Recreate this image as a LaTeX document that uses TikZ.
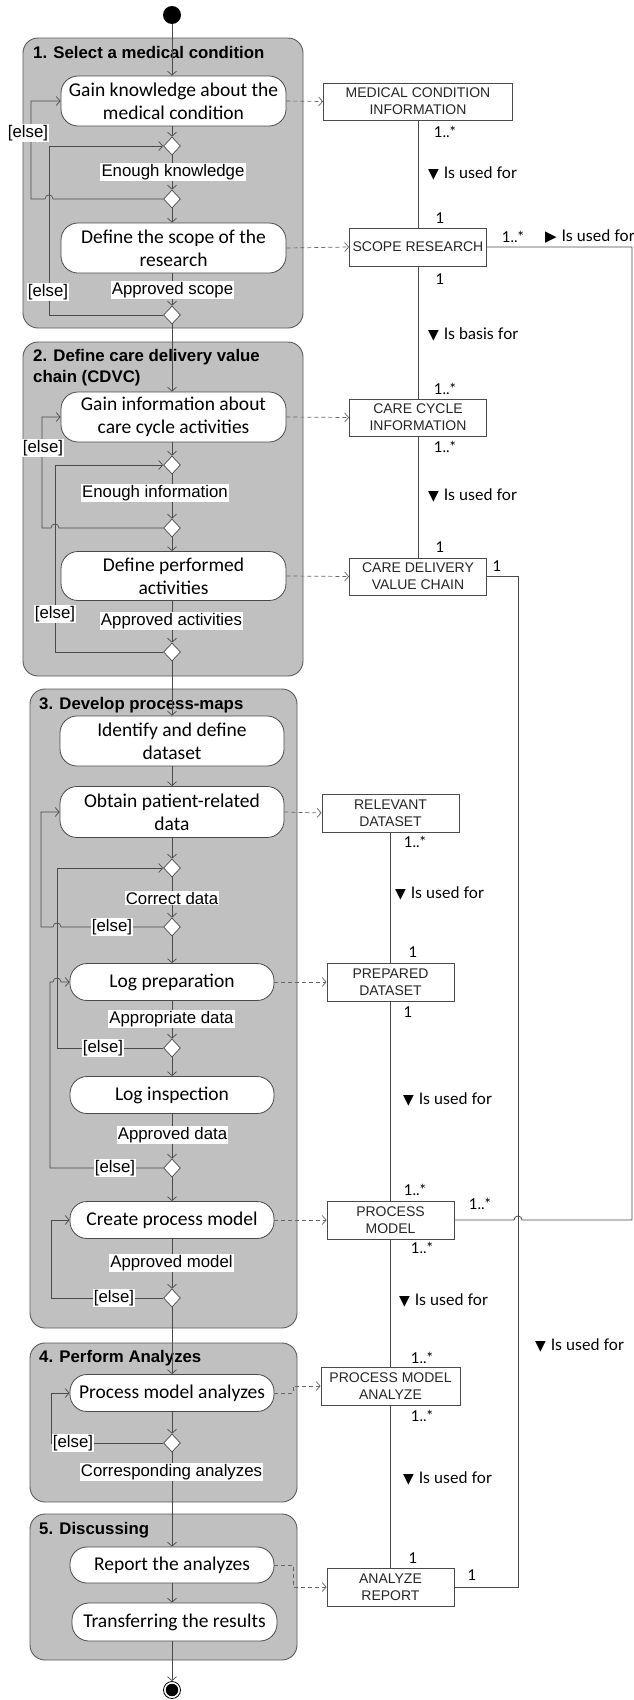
\documentclass[tikz,border=0pt]{standalone}
\usepackage{fontspec}
\usetikzlibrary{arrows.meta,shapes.geometric}
\newfontfamily\actfont{Carlito}
\newfontfamily\arialfont{Liberation Sans}
\newfontfamily\latofont{Lato}
\newfontfamily\symfont{DejaVu Sans}
\definecolor{grpfill}{HTML}{C0C0C0}
\definecolor{grpline}{HTML}{5A5A5A}
\definecolor{lin}{HTML}{4A4A4A}
\newcommand{\dn}{{\symfont\fontsize{14}{14}\selectfont\char"25BC}\hspace{5pt}}
\newcommand{\rt}{{\symfont\fontsize{15}{15}\selectfont\char"25B6}\hspace{5pt}}
\tikzset{
  grp/.style={draw=grpline, fill=grpfill, rounded corners=15pt, line width=0.9pt, inner sep=0pt},
  act/.style={draw=lin, fill=white, rounded corners=17pt, line width=0.8pt, align=center,
    inner sep=0pt, font=\actfont\fontsize{19.5}{23}\selectfont},
  obj/.style={draw=lin, fill=white, line width=0.8pt, align=center, inner sep=0pt,
    font=\arialfont\fontsize{14}{17}\selectfont, text=black!85},
  dec/.style={diamond, draw=lin, fill=white, line width=0.7pt, minimum width=17pt,
    minimum height=18pt, inner sep=0pt},
  flow/.style={draw=lin, line width=0.7pt, -{Straight Barb[length=4pt,width=9pt]}},
  dep/.style={draw=lin!85, line width=0.7pt, dash pattern=on 4pt off 3pt,
    -{Straight Barb[length=4pt,width=9pt]}},
  assoc/.style={draw=lin, line width=0.8pt},
  guard/.style={fill=white, inner sep=1.2pt, font=\arialfont\fontsize{16.8}{18}\selectfont},
  title/.style={anchor=west, inner sep=0pt, align=left,
    font=\arialfont\bfseries\fontsize{16.8}{21}\selectfont},
  mult/.style={inner sep=0pt, font=\latofont\fontsize{15}{17}\selectfont},
  rel/.style={anchor=west, inner sep=0pt, font=\latofont\fontsize{16}{18}\selectfont},
}
\begin{document}
\begin{tikzpicture}[x=1pt, y=-1pt]
\useasboundingbox (0,0) rectangle (633,1700);

% activity partitions
\node[grp, minimum width=280pt, minimum height=290pt] (g1) at (163,183) {};
\node[grp, minimum width=280pt, minimum height=334pt] (g2) at (163,509) {};
\node[grp, minimum width=267pt, minimum height=639pt] (g3) at (163.5,1008.5) {};
\node[grp, minimum width=267pt, minimum height=159pt] (g4) at (163.5,1422.5) {};
\node[grp, minimum width=267pt, minimum height=146pt] (g5) at (163.5,1587) {};

\node[title] (t1) at (33,52) {1. Select a medical condition};
\node[title] (t2) at (33,367.5) {2. Define care delivery value\\chain (CDVC)};
\node[title] (t3) at (39,705) {3. Develop process-maps};
\node[title] (t4) at (39,1358) {4. Perform Analyzes};
\node[title] (t5) at (39,1530) {5. Discussing};

% initial and final nodes
\node[circle, fill=black, minimum size=18pt, inner sep=0pt] (start) at (172,15) {};
\node[circle, draw=black, line width=0.8pt, fill=white, minimum size=17pt, inner sep=0pt] (stop) at (172,1690) {};
\node[circle, fill=black, minimum size=12.5pt, inner sep=0pt] (stopin) at (172,1690) {};

% actions
\node[act, minimum width=225pt, minimum height=50pt] (a1) at (173.5,101) {Gain knowledge about the\\medical condition};
\node[act, minimum width=225pt, minimum height=50pt] (a2) at (173.5,248) {Define the scope of the\\research};
\node[act, minimum width=225pt, minimum height=50pt] (a3) at (173.5,417) {Gain information about\\care cycle activities};
\node[act, minimum width=225pt, minimum height=49pt] (a4) at (173.5,576) {Define performed\\activities};
\node[act, minimum width=224pt, minimum height=50pt] (a5) at (172,741) {Identify and define\\dataset};
\node[act, minimum width=224pt, minimum height=51pt] (a6) at (172,812) {Obtain patient-related\\data};
\node[act, minimum width=204pt, minimum height=37pt] (a7) at (172,982) {Log preparation};
\node[act, minimum width=204pt, minimum height=37pt] (a8) at (172,1095) {Log inspection};
\node[act, minimum width=204pt, minimum height=37pt] (a9) at (172,1220) {Create process model};
\node[act, minimum width=204pt, minimum height=37pt] (a10) at (172,1393) {Process model analyzes};
\node[act, minimum width=204pt, minimum height=36pt] (a11) at (172,1565) {Report the analyzes};
\node[act, minimum width=205pt, minimum height=38pt] (a12) at (174.5,1622) {Transferring the results};

% decision / merge nodes
\node[dec] (d1) at (172,146) {};
\node[dec] (d2) at (172,199) {};
\node[dec] (d3) at (172,315) {};
\node[dec] (d4) at (172,465) {};
\node[dec] (d5) at (172,528) {};
\node[dec] (d6) at (172,652) {};
\node[dec] (d7) at (172,868) {};
\node[dec] (d8) at (172,927) {};
\node[dec] (d10) at (172,1048) {};
\node[dec] (d11) at (172,1168) {};
\node[dec] (d12) at (172,1298) {};
\node[dec] (d13) at (172,1443) {};

% main control flow
\draw[flow] (start) -- (a1.north -| start);
\draw[flow] (a1.south -| d1) -- (d1.north);
\draw[flow] (d1.south) -- (d2.north);
\draw[flow] (d2.south) -- (a2.north -| d2);
\draw[flow] (a2.south -| d3) -- (d3.north);
\draw[flow] (d3.south) -- (a3.north -| d3);
\draw[flow] (a3.south -| d4) -- (d4.north);
\draw[flow] (d4.south) -- (d5.north);
\draw[flow] (d5.south) -- (a4.north -| d5);
\draw[flow] (a4.south -| d6) -- (d6.north);
\draw[flow] (d6.south) -- (a5.north -| d6);
\draw[flow] (a5.south) -- (a6.north);
\draw[flow] (a6.south) -- (d7.north);
\draw[flow] (d7.south) -- (d8.north);
\draw[flow] (d8.south) -- (a7.north);
\draw[flow] (a7.south) -- (d10.north);
\draw[flow] (d10.south) -- (a8.north);
\draw[flow] (a8.south) -- (d11.north);
\draw[flow] (d11.south) -- (a9.north);
\draw[flow] (a9.south) -- (d12.north);
\draw[flow] (d12.south) -- (a10.north);
\draw[flow] (a10.south) -- (d13.north);
\draw[flow] (d13.south) -- (a11.north);
\draw[flow] (a11.south) -- (a12.north -| a11);
\draw[flow] (a12.south -| stop) -- (stop.north);

% [else] loops, with hops where they cross
\draw[flow] (d2.west) -- (53,199) .. controls (53,193.7) and (45,193.7) .. (45,199) -- (31,199) |- (a1.west);
\draw[flow] (d3.west) -- (49,315) |- (d1.west);
\draw[flow] (d5.west) -- (59,528) .. controls (59,522.7) and (51,522.7) .. (51,528) -- (42,528) |- (a3.west);
\draw[flow] (d6.west) -- (55,652) |- (d4.west);
\draw[flow] (d8.west) -- (61,927) .. controls (61,921.7) and (53,921.7) .. (53,927) -- (41,927) |- (a6.west);
\draw[flow] (d10.west) -- (57,1048) |- (d7.west);
\draw[flow] (d11.west) -- (50,1168) -- (50,982) -- (53,982) .. controls (53,976.7) and (61,976.7) .. (61,982) -- (a7.west);
\draw[flow] (d12.west) -- (51,1298) |- (a9.west);
\draw[flow] (d13.west) -- (51,1443) |- (a10.west);

% guards
\node[guard] (gk1) at (173,172) {Enough knowledge};
\node[guard] (gk2) at (172.5,290) {Approved scope};
\node[guard] (gk3) at (155,493) {Enough information};
\node[guard] (gk4) at (171.5,621) {Approved activities};
\node[guard] (gk5) at (172,898) {Correct data};
\node[guard] (gk6) at (171.5,1019) {Appropriate data};
\node[guard] (gk7) at (172.5,1135) {Approved data};
\node[guard] (gk8) at (171.5,1263) {Approved model};
\node[guard] (gk9) at (171.5,1472) {Corresponding analyzes};

\node[guard] (e1) at (28,133) {[else]};
\node[guard] (e2) at (48,292) {[else]};
\node[guard] (e3) at (43,448) {[else]};
\node[guard] (e4) at (55,614) {[else]};
\node[guard] (e5) at (112,927) {[else]};
\node[guard] (e6) at (103,1048) {[else]};
\node[guard] (e7) at (115,1168) {[else]};
\node[guard] (e8) at (114,1298) {[else]};
\node[guard] (e9) at (73,1443) {[else]};

% object nodes
\node[obj, minimum width=189pt, minimum height=37pt] (o1) at (418,101.5) {MEDICAL CONDITION\\INFORMATION};
\node[obj, minimum width=137pt, minimum height=38pt] (o2) at (418,247) {SCOPE RESEARCH};
\node[obj, minimum width=137pt, minimum height=37pt] (o3) at (418,417.5) {CARE CYCLE\\INFORMATION};
\node[obj, minimum width=137pt, minimum height=37pt] (o4) at (418,576.5) {CARE DELIVERY\\VALUE CHAIN};
\node[obj, minimum width=137pt, minimum height=38pt] (o5) at (390.5,813) {RELEVANT\\DATASET};
\node[obj, minimum width=127pt, minimum height=38pt] (o6) at (390.5,982) {PREPARED\\DATASET};
\node[obj, minimum width=127pt, minimum height=38pt] (o7) at (390.5,1220) {PROCESS\\MODEL};
\node[obj, minimum width=139pt, minimum height=38pt] (o8) at (390.5,1386) {PROCESS MODEL\\ANALYZE};
\node[obj, minimum width=127pt, minimum height=38pt] (o9) at (390.5,1587) {ANALYZE\\REPORT};

% object flows
\draw[dep] (a1.east) -- (o1.west);
\draw[dep] (a2.east) -- (o2.west);
\draw[dep] (a3.east) -- (o3.west);
\draw[dep] (a4.east) -- (o4.west);
\draw[dep] (a6.east) -- (o5.west);
\draw[dep] (a7.east) -- (o6.west);
\draw[dep] (a9.east) -- (o7.west);
\draw[dep] (a10.east) -- (293,1393) -- (293,1386) -- (o8.west);
\draw[dep] (a11.east) -- (293,1565) -- (293,1587) -- (o9.west);

% associations
\draw[assoc] (o1.south) -- (o2.north);
\draw[assoc] (o2.south) -- (o3.north);
\draw[assoc] (o3.south) -- (o4.north);
\draw[assoc] (o5.south) -- (o6.north);
\draw[assoc] (o6.south) -- (o7.north);
\draw[assoc] (o7.south) -- (o8.north);
\draw[assoc] (o8.south) -- (o9.north);
\draw[assoc] (o4.east) -- (518,576.5) -- (518,1587) -- (o9.east);
\draw[assoc] (o2.east) -- (632,247) -- (632,1220) -- (522,1220) .. controls (522,1214.7) and (514,1214.7) .. (514,1220) -- (o7.east);

% multiplicities
\node[mult] (m1) at (445,132) {1..*};
\node[mult] (m2) at (440,218) {1};
\node[mult] (m3) at (513,237) {1..*};
\node[mult] (m4) at (440,279) {1};
\node[mult] (m5) at (445,389) {1..*};
\node[mult] (m6) at (445,447) {1..*};
\node[mult] (m7) at (440,547) {1};
\node[mult] (m8) at (497,566) {1};
\node[mult] (m9) at (415,842) {1..*};
\node[mult] (m10) at (413,952) {1};
\node[mult] (m11) at (408,1012) {1};
\node[mult] (m12) at (415,1190) {1..*};
\node[mult] (m13) at (480,1204) {1..*};
\node[mult] (m14) at (422,1248) {1..*};
\node[mult] (m15) at (422,1358) {1..*};
\node[mult] (m16) at (422,1416) {1..*};
\node[mult] (m17) at (413,1558) {1};
\node[mult] (m18) at (472,1575) {1};

% association names
\node[rel] (r1) at (428,173) {\dn Is used for};
\node[rel] (r2) at (545,237) {\rt Is used for};
\node[rel] (r3) at (428,334) {\dn Is basis for};
\node[rel] (r4) at (428,495) {\dn Is used for};
\node[rel] (r5) at (395,893) {\dn Is used for};
\node[rel] (r6) at (403,1099) {\dn Is used for};
\node[rel] (r7) at (399,1300) {\dn Is used for};
\node[rel] (r8) at (403,1478) {\dn Is used for};
\node[rel] (r9) at (535,1345) {\dn Is used for};
\end{tikzpicture}
\end{document}
